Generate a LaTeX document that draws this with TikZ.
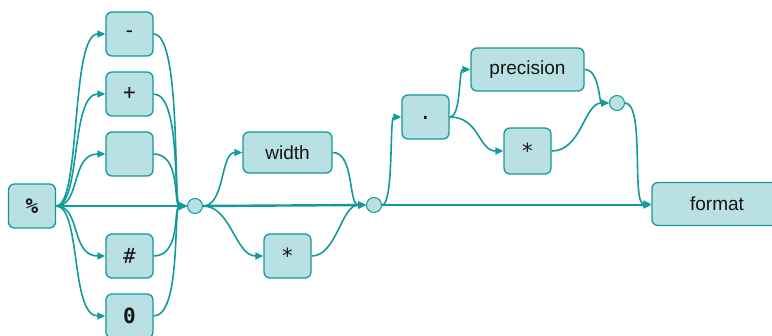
\documentclass[tikz,border=0pt]{standalone}
\usepackage{fontspec}
\setmainfont{Liberation Sans}
\newfontfamily\monofam{DejaVu Sans Mono}
\usetikzlibrary{arrows.meta}
\definecolor{rail}{HTML}{139A9A}
\definecolor{boxfill}{HTML}{B9E0E3}
\definecolor{ink}{HTML}{151515}
\begin{document}
\begin{tikzpicture}[x=1pt,y=-1pt,
  sym/.style={draw=rail, fill=boxfill, line width=1.3pt, rounded corners=6pt,
    minimum width=47pt, minimum height=44pt, inner sep=0pt, text=ink,
    font=\monofam\fontsize{21}{21}\selectfont},
  word/.style={sym, font=\fontsize{19}{19}\selectfont},
  junc/.style={circle, draw=rail, fill=boxfill, line width=1pt, minimum size=15pt, inner sep=0pt},
  conn/.style={draw=rail, line width=1.6pt, -{Triangle[length=8pt,width=7pt]}},
  trunk/.style={conn, line width=2.4pt},
  slim/.style={conn, line width=1.4pt}
]
\useasboundingbox (0,0) rectangle (772,336);
% nodes
\node[sym] (pct) at (32,206) {\bfseries\%};
\node[sym] (minus) at (129.5,34) {-};
\node[sym] (plus) at (129.5,94) {+};
\node[sym] (space) at (129.5,154) {};
\node[sym] (hash) at (129.5,256) {\#};
\node[sym] (zero) at (129.5,316) {\bfseries 0};
\node[junc] (j1) at (195,206) {};
\node[word, minimum width=89pt, minimum height=41pt] (width) at (287.5,152.5) {width};
\node[sym] (wstar) at (287.5,256) {*};
\node[junc] (j2) at (374,205) {};
\node[sym] (dot) at (425.5,117) {\raisebox{-6pt}{.}};
\node[word, minimum width=113pt, minimum height=43pt] (prec) at (527.5,69.5) {precision};
\node[sym, minimum height=46pt] (pstar) at (527.5,151) {*};
\node[junc] (j3) at (617,103) {};
\node[word, minimum width=130pt, minimum height=43pt] (fmt) at (717,204) {format};
% first fan
\foreach \b in {minus,plus,space,hash,zero}{
  \draw[conn] (pct.east) .. controls +(25,0) and +(-35,0) .. (\b.west);
  \draw[conn] (\b.east) .. controls +(28,0) and +(-14,0) .. (j1.west);
}
\draw[trunk] (pct.east) -- (j1.west);
% width
\draw[conn] (j1.east) .. controls +(22,0) and +(-22,0) .. (width.west);
\draw[conn] (j1.east) .. controls +(28,0) and +(-28,0) .. (wstar.west);
\draw[trunk] (j1.east) -- (j2.west);
\draw[conn] (width.east) .. controls +(22,0) and +(-18,0) .. (j2.west);
\draw[conn] (wstar.east) .. controls +(25,0) and +(-25,0) .. (j2.west);
% precision
\draw[conn] (j2.east) .. controls +(12,0) and +(-12,0) .. (dot.west);
\draw[slim] (j2.east) -- (j2.east -| fmt.west);
\draw[conn] (dot.east) .. controls +(12,0) and +(-12,0) .. (prec.west);
\draw[conn] (dot.east) .. controls +(30,0) and +(-25,0) .. (pstar.west);
\draw[conn] (prec.east) .. controls +(15,0) and +(-10,0) .. (j3.west);
\draw[conn] (pstar.east) .. controls +(30,0) and +(-25,0) .. (j3.west);
\draw[conn] (j3.east) .. controls +(20,0) and +(-20,0) .. (fmt.west);
\end{tikzpicture}
\end{document}
